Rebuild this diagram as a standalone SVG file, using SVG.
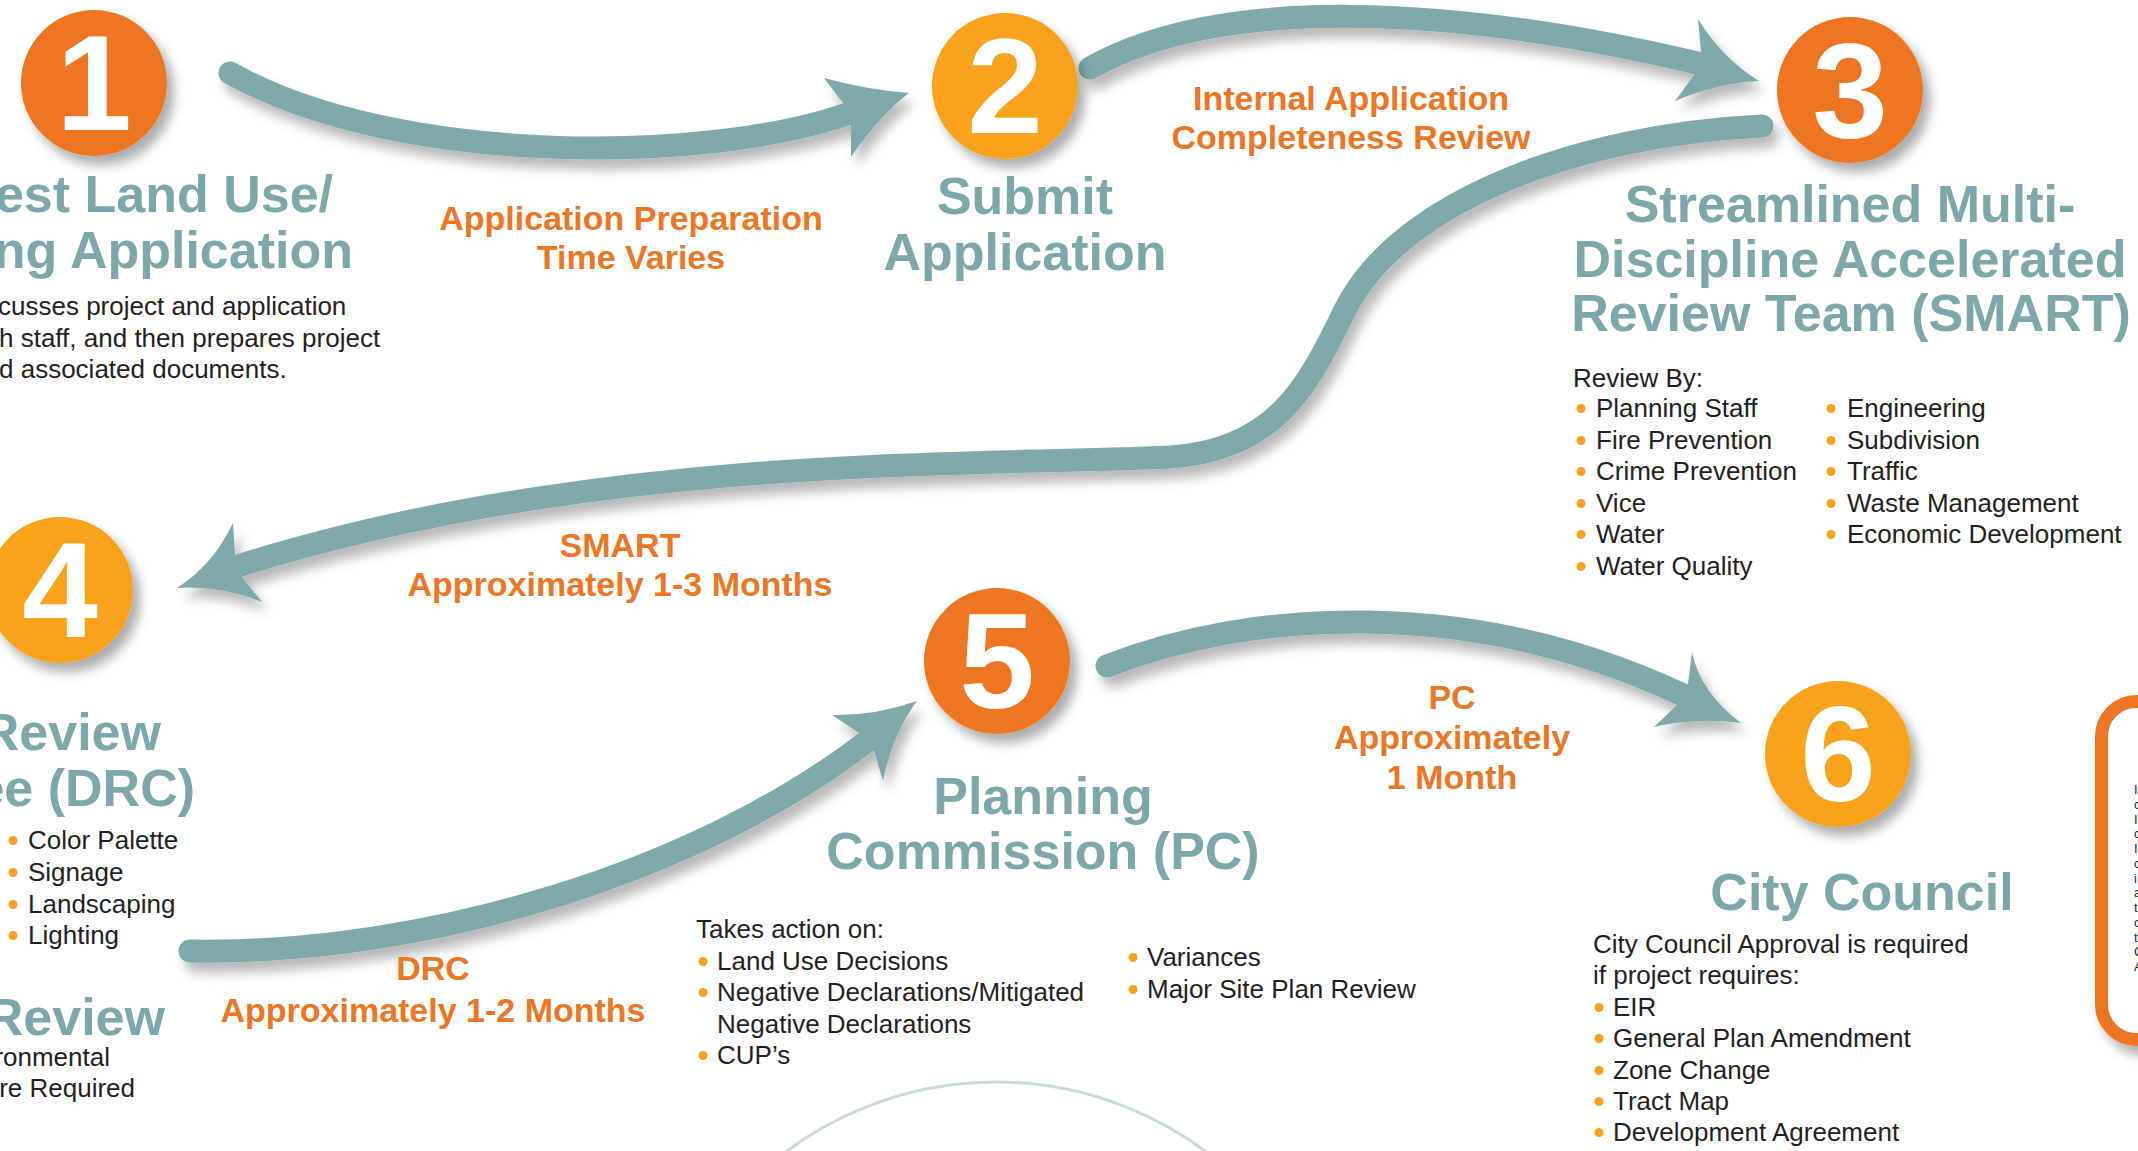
<svg xmlns="http://www.w3.org/2000/svg" width="2138" height="1151" viewBox="0 0 2138 1151">
<defs>
<filter id="sh" x="-30%" y="-30%" width="170%" height="170%"><feDropShadow dx="7" dy="9" stdDeviation="6" flood-color="#000" flood-opacity="0.33"/></filter>
<filter id="ash" x="-10%" y="-20%" width="130%" height="160%"><feDropShadow dx="6" dy="10" stdDeviation="6" flood-color="#000" flood-opacity="0.28"/></filter>
</defs>
<style>
text{font-family:"Liberation Sans",Arial,Helvetica,sans-serif}
.t{font-weight:bold;fill:#7CA6AA;font-size:52px}
.m{text-anchor:middle}
.e{text-anchor:end}
.o{font-weight:bold;fill:#EE7623;font-size:34px;text-anchor:middle}
.b{font-size:26px;fill:#231F20}
.d{fill:#fff;font-size:136px;font-weight:bold;text-anchor:middle}
.c1{fill:#EE7623}
.c2{fill:#F8A21C}
.bu{fill:#F8A21C}
.shaft{fill:none;stroke:#7FA8AB;stroke-width:23;stroke-linecap:round}
.head{fill:#7FA8AB}
.f{font-size:13px;fill:#231F20}
</style>
<rect width="2138" height="1151" fill="#fff"/>

<g id="connectors">
<g id="arrow-1-2" filter="url(#ash)">
<path class="shaft" d="M 230 73 C 400 168, 710 162, 847 114"/>
<path class="head" d="M 843 103 L 824 78 Q 868 90 909 93 Q 880 115 851 157 L 851 126 Z"/>
</g>
<g id="arrow-2-3" filter="url(#ash)">
<path class="shaft" d="M 1090 68 C 1220 -5, 1450 5, 1697 63"/>
<path class="head" d="M 1701 52 L 1698 19 Q 1722 58 1759 81 Q 1717 83 1675 101 L 1694 75 Z"/>
</g>
<g id="arrow-3-4" filter="url(#ash)">
<path class="shaft" d="M 1762 126 C 1580 135, 1400 200, 1345 310 C 1310 380, 1280 450, 1170 457 C 1000 466, 600 452, 238 566"/>
<path class="head" d="M 235 555 L 233 523 Q 213 565 177 588 Q 220 585 262 602 L 242 577 Z"/>
</g>
<g id="arrow-4-5" filter="url(#ash)">
<path class="shaft" d="M 190 951 C 430 955, 700 870, 866 742"/>
<path class="head" d="M 859 733 L 832 715 Q 874 716 917 701 Q 892 735 883 781 L 874 751 Z"/>
</g>
<g id="arrow-5-6" filter="url(#ash)">
<path class="shaft" d="M 1107 666 C 1250 610, 1470 595, 1683 695"/>
<path class="head" d="M 1688 684 L 1692 652 Q 1700 692 1741 723 Q 1697 717 1654 727 L 1677 705 Z"/>
</g>
</g>

<g id="step1">
<circle class="c1" cx="94" cy="83" r="73" filter="url(#sh)"/>
<text class="d" x="94" y="130">1</text>
<text class="t e" x="333" y="212">est Land Use/</text>
<text class="t e" x="353" y="268">ng Application</text>
<text class="b" x="-2" y="315">cusses project and application</text>
<text class="b" x="-1" y="347">h staff, and then prepares project</text>
<text class="b" x="-1" y="378">d associated documents.</text>
</g>

<g id="label-1-2">
<text class="o" x="631" y="230">Application Preparation</text>
<text class="o" x="631" y="269">Time Varies</text>
</g>

<g id="step2">
<circle class="c2" cx="1005" cy="86" r="73" filter="url(#sh)"/>
<text class="d" x="1005" y="133">2</text>
<text class="t m" x="1025" y="214">Submit</text>
<text class="t m" x="1025" y="270">Application</text>
</g>

<g id="label-2-3">
<text class="o" x="1351" y="110">Internal Application</text>
<text class="o" x="1351" y="149">Completeness Review</text>
</g>

<g id="step3">
<circle class="c1" cx="1850" cy="90" r="73" filter="url(#sh)"/>
<text class="d" x="1850" y="137">3</text>
<text class="t m" x="1850" y="222">Streamlined Multi-</text>
<text class="t m" x="1850" y="277">Discipline Accelerated</text>
<text class="t m" x="1851" y="331">Review Team (SMART)</text>
<text class="b" x="1573" y="387">Review By:</text>
<g class="bu">
<circle cx="1581" cy="408.5" r="4.5"/><circle cx="1581" cy="440.5" r="4.5"/><circle cx="1581" cy="471.5" r="4.5"/>
<circle cx="1581" cy="503.5" r="4.5"/><circle cx="1581" cy="534.5" r="4.5"/><circle cx="1581" cy="566.5" r="4.5"/>
<circle cx="1831" cy="408.5" r="4.5"/><circle cx="1831" cy="440.5" r="4.5"/><circle cx="1831" cy="471.5" r="4.5"/>
<circle cx="1831" cy="503.5" r="4.5"/><circle cx="1831" cy="534.5" r="4.5"/>
</g>
<text class="b" x="1596" y="417">Planning Staff</text>
<text class="b" x="1596" y="449">Fire Prevention</text>
<text class="b" x="1596" y="480">Crime Prevention</text>
<text class="b" x="1596" y="512">Vice</text>
<text class="b" x="1596" y="543">Water</text>
<text class="b" x="1596" y="575">Water Quality</text>
<text class="b" x="1847" y="417">Engineering</text>
<text class="b" x="1847" y="449">Subdivision</text>
<text class="b" x="1847" y="480">Traffic</text>
<text class="b" x="1847" y="512">Waste Management</text>
<text class="b" x="1847" y="543">Economic Development</text>
</g>

<g id="label-3-4">
<text class="o" x="620" y="557">SMART</text>
<text class="o" x="620" y="596">Approximately 1-3 Months</text>
</g>

<g id="step4">
<circle class="c2" cx="60" cy="590" r="73" filter="url(#sh)"/>
<text class="d" x="60" y="637">4</text>
<text class="t e" x="161" y="750">Review</text>
<text class="t e" x="195" y="806">ee (DRC)</text>
<g class="bu">
<circle cx="13" cy="840.5" r="4.5"/><circle cx="13" cy="872.5" r="4.5"/><circle cx="13" cy="904.5" r="4.5"/><circle cx="13" cy="935.5" r="4.5"/>
</g>
<text class="b" x="28" y="849">Color Palette</text>
<text class="b" x="28" y="881">Signage</text>
<text class="b" x="28" y="913">Landscaping</text>
<text class="b" x="28" y="944">Lighting</text>
<text class="t e" x="165" y="1035">Review</text>
<text class="b e" x="110" y="1066">ronmental</text>
<text class="b e" x="135" y="1097">re Required</text>
</g>

<g id="label-4-5">
<text class="o" x="433" y="980">DRC</text>
<text class="o" x="433" y="1022">Approximately 1-2 Months</text>
</g>

<g id="step5">
<circle class="c1" cx="997" cy="661" r="73" filter="url(#sh)"/>
<text class="d" x="997" y="708">5</text>
<text class="t m" x="1043" y="814">Planning</text>
<text class="t m" x="1043" y="869">Commission (PC)</text>
<text class="b" x="696" y="938">Takes action on:</text>
<g class="bu">
<circle cx="703" cy="961.5" r="4.5"/><circle cx="703" cy="992.5" r="4.5"/><circle cx="703" cy="1055.5" r="4.5"/>
<circle cx="1133" cy="957.5" r="4.5"/><circle cx="1133" cy="989.5" r="4.5"/>
</g>
<text class="b" x="717" y="970">Land Use Decisions</text>
<text class="b" x="717" y="1001">Negative Declarations/Mitigated</text>
<text class="b" x="717" y="1033">Negative Declarations</text>
<text class="b" x="717" y="1064">CUP’s</text>
<text class="b" x="1147" y="966">Variances</text>
<text class="b" x="1147" y="998">Major Site Plan Review</text>
</g>

<g id="label-5-6">
<text class="o" x="1452" y="709">PC</text>
<text class="o" x="1452" y="749">Approximately</text>
<text class="o" x="1452" y="789">1 Month</text>
</g>

<g id="step6">
<circle class="c2" cx="1838" cy="754" r="73" filter="url(#sh)"/>
<text class="d" x="1838" y="801">6</text>
<text class="t m" x="1862" y="910">City Council</text>
<text class="b" x="1593" y="953">City Council Approval is required</text>
<text class="b" x="1593" y="984">if project requires:</text>
<g class="bu">
<circle cx="1599" cy="1007.5" r="4.5"/><circle cx="1599" cy="1038.5" r="4.5"/><circle cx="1599" cy="1070.5" r="4.5"/>
<circle cx="1599" cy="1101.5" r="4.5"/><circle cx="1599" cy="1132.5" r="4.5"/>
</g>
<text class="b" x="1613" y="1016">EIR</text>
<text class="b" x="1613" y="1047">General Plan Amendment</text>
<text class="b" x="1613" y="1079">Zone Change</text>
<text class="b" x="1613" y="1110">Tract Map</text>
<text class="b" x="1613" y="1141">Development Agreement</text>
</g>

<g id="side-box">
<rect x="2101.5" y="701.5" width="200" height="338" rx="35" fill="#fff" stroke="#EE7623" stroke-width="13" filter="url(#sh)"/>
<text class="f" x="2134" y="794">I</text>
<text class="f" x="2134" y="809">c</text>
<text class="f" x="2134" y="824">I</text>
<text class="f" x="2134" y="838">c</text>
<text class="f" x="2134" y="853">I</text>
<text class="f" x="2134" y="868">c</text>
<text class="f" x="2134" y="883">i</text>
<text class="f" x="2134" y="897">a</text>
<text class="f" x="2134" y="912">t</text>
<text class="f" x="2134" y="927">c</text>
<text class="f" x="2134" y="942">t</text>
<text class="f" x="2134" y="956">C</text>
<text class="f" x="2134" y="971">A</text>
</g>

<g id="bottom-arc">
<circle cx="996" cy="1433" r="351" fill="none" stroke="#C8D8DC" stroke-width="3"/>
</g>
</svg>
